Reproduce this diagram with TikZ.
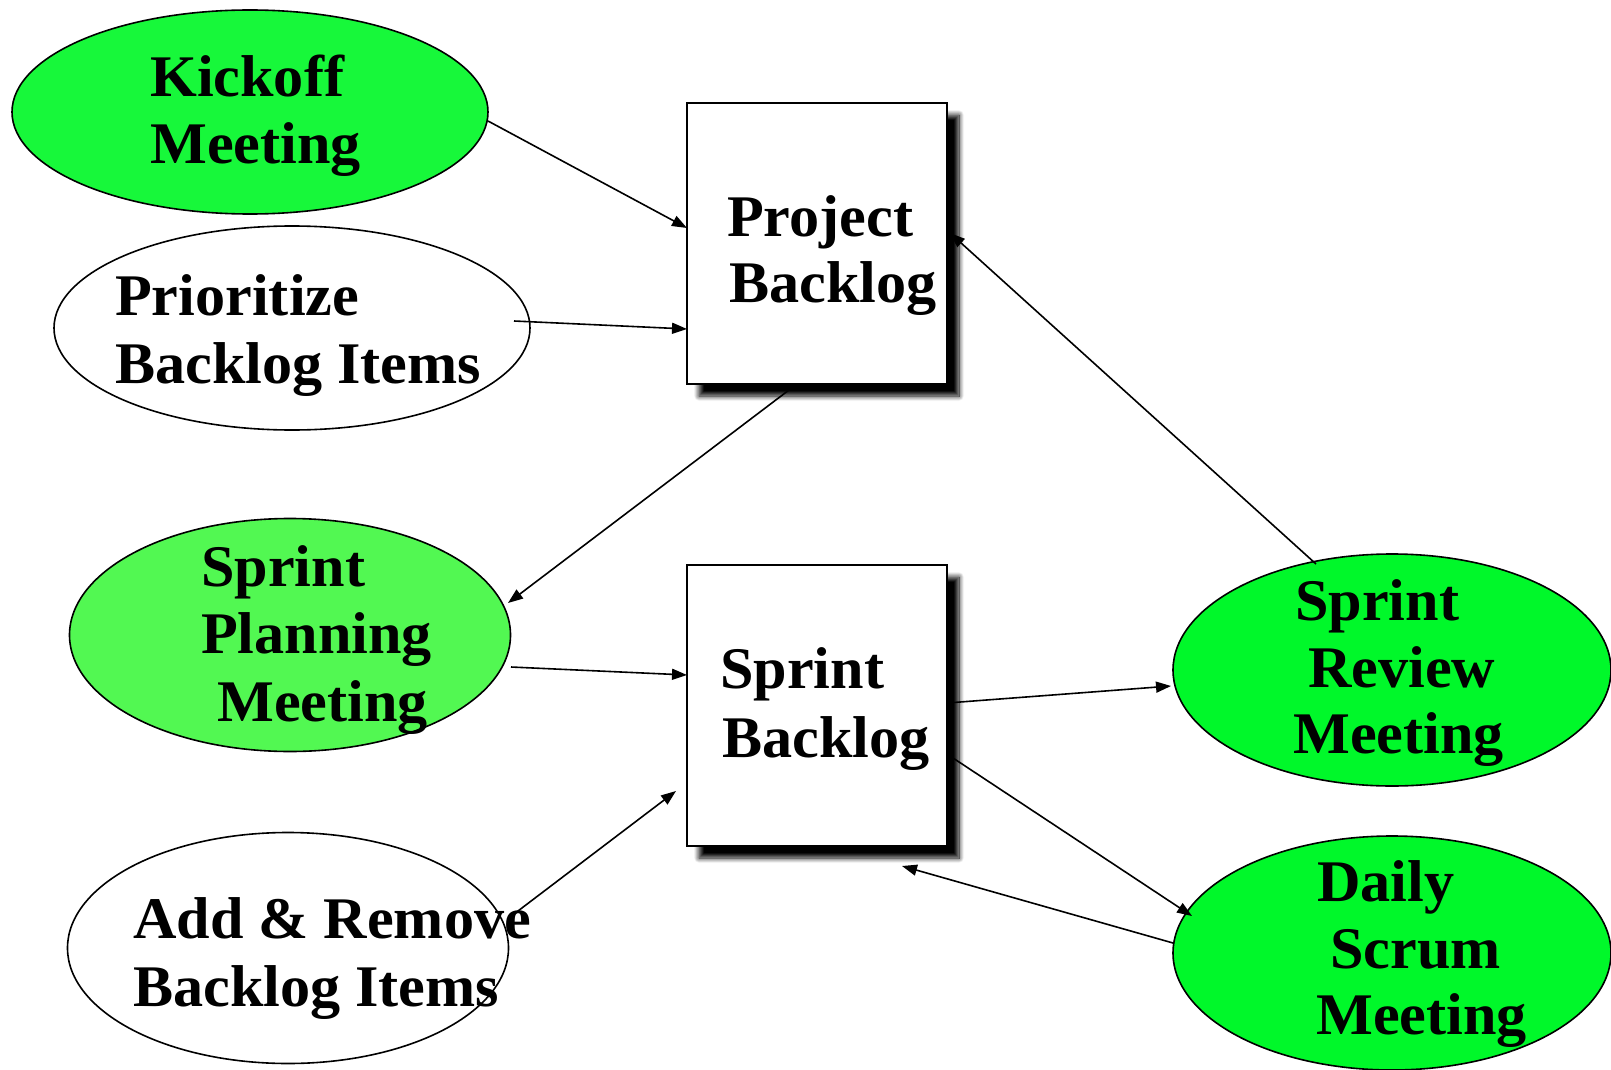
\documentclass[tikz,border=0pt]{standalone}
\usepackage{fontspec}
\setmainfont[FakeStretch=1.02]{Liberation Serif}
\usetikzlibrary{arrows.meta,shadows.blur,calc,shapes.geometric}
\definecolor{gA}{RGB}{23,248,58}
\definecolor{gB}{RGB}{82,248,82}
\definecolor{gC}{RGB}{0,248,42}
\tikzset{
  ell/.style={ellipse,draw=black,line width=1.6pt,inner sep=0pt,outer sep=0pt},
  boxnode/.style={rectangle,draw=black,line width=1.8pt,fill=white,inner sep=0pt,outer sep=0pt,
    minimum width=260pt,minimum height=281pt,
    blur shadow={shadow xshift=12pt,shadow yshift=-12pt,shadow blur radius=5pt,shadow blur steps=12,shadow opacity=100}},
  txt/.style={anchor=base west,inner sep=0pt,font=\fontsize{59}{66}\selectfont\bfseries},
  arr/.style={-{Triangle[length=15pt,width=11pt]},line width=1.6pt}
}
\begin{document}
\begin{tikzpicture}[x=1pt,y=-1pt]
\useasboundingbox (0,0) rectangle (1611,1070);
% shapes
\node[ell,fill=gA,minimum width=476pt,minimum height=204pt] (kick) at (250,112) {};
\node[ell,fill=white,minimum width=476pt,minimum height=204pt] (prio) at (292,328) {};
\node[ell,fill=gB,minimum width=441pt,minimum height=233pt] (plan) at (290,635) {};
\node[ell,fill=white,minimum width=441pt,minimum height=231pt] (addr) at (288,948) {};
\node[ell,fill=gC,minimum width=438pt,minimum height=232pt] (rev) at (1392,670) {};
\node[ell,fill=gC,minimum width=438pt,minimum height=234pt] (daily) at (1392,953) {};
\node[boxnode] (pb) at (817,243.5) {};
\node[boxnode] (sb) at (817,705.5) {};
% texts
\node[txt] (t1) at (150,97) {Kickoff};
\node[txt] (t2) at (150,163) {Meeting};
\node[txt] (t3) at (115,315) {Prioritize};
\node[txt] (t4) at (115,383) {Backlog Items};
\node[txt] (t5) at (727,236) {Project};
\node[txt] (t6) at (729,302) {Backlog};
\node[txt] (t7) at (201,586) {Sprint};
\node[txt] (t8) at (201,653) {Planning};
\node[txt] (t9) at (217,721) {Meeting};
\node[txt] (t10) at (720,688) {Sprint};
\node[txt] (t11) at (722,757) {Backlog};
\node[txt] (t12) at (133,938) {Add \& Remove};
\node[txt] (t13) at (133,1006) {Backlog Items};
\node[txt] (t14) at (1295,620) {Sprint};
\node[txt] (t15) at (1308,687) {Review};
\node[txt] (t16) at (1293,753) {Meeting};
\node[txt] (t17) at (1317,901) {Daily};
\node[txt] (t18) at (1330,968) {Scrum};
\node[txt] (t19) at (1316,1034) {Meeting};
% connectors
\draw[arr] ([shift={(0,9)}]kick.east) -- ([shift={(0,-15.5)}]pb.west);
\draw[arr] ([shift={(222,-7)}]prio.center) -- ([shift={(0,85.5)}]pb.west);
\draw[arr] ([shift={(-28,6)}]pb.south) -- ([shift={(218,-32)}]plan.center);
\draw[arr] ([shift={(221,32)}]plan.center) -- ([shift={(0,-30.5)}]sb.west);
\draw[arr] ([shift={(226,-34)}]addr.center) -- ([shift={(-11,85.5)}]sb.west);
\draw[arr] ([shift={(0,-2.5)}]sb.east) -- ([shift={(-2,16)}]rev.west);
\draw[arr] ([shift={(6,52.5)}]sb.east) -- ([shift={(-200,-37)}]daily.center);
\draw[arr] ([shift={(0,-10)}]daily.west) -- ([shift={(85,20)}]sb.south);
\draw[arr] ([shift={(-76,-106)}]rev.center) -- ([shift={(3,-10.5)}]pb.east);
\end{tikzpicture}
\end{document}
